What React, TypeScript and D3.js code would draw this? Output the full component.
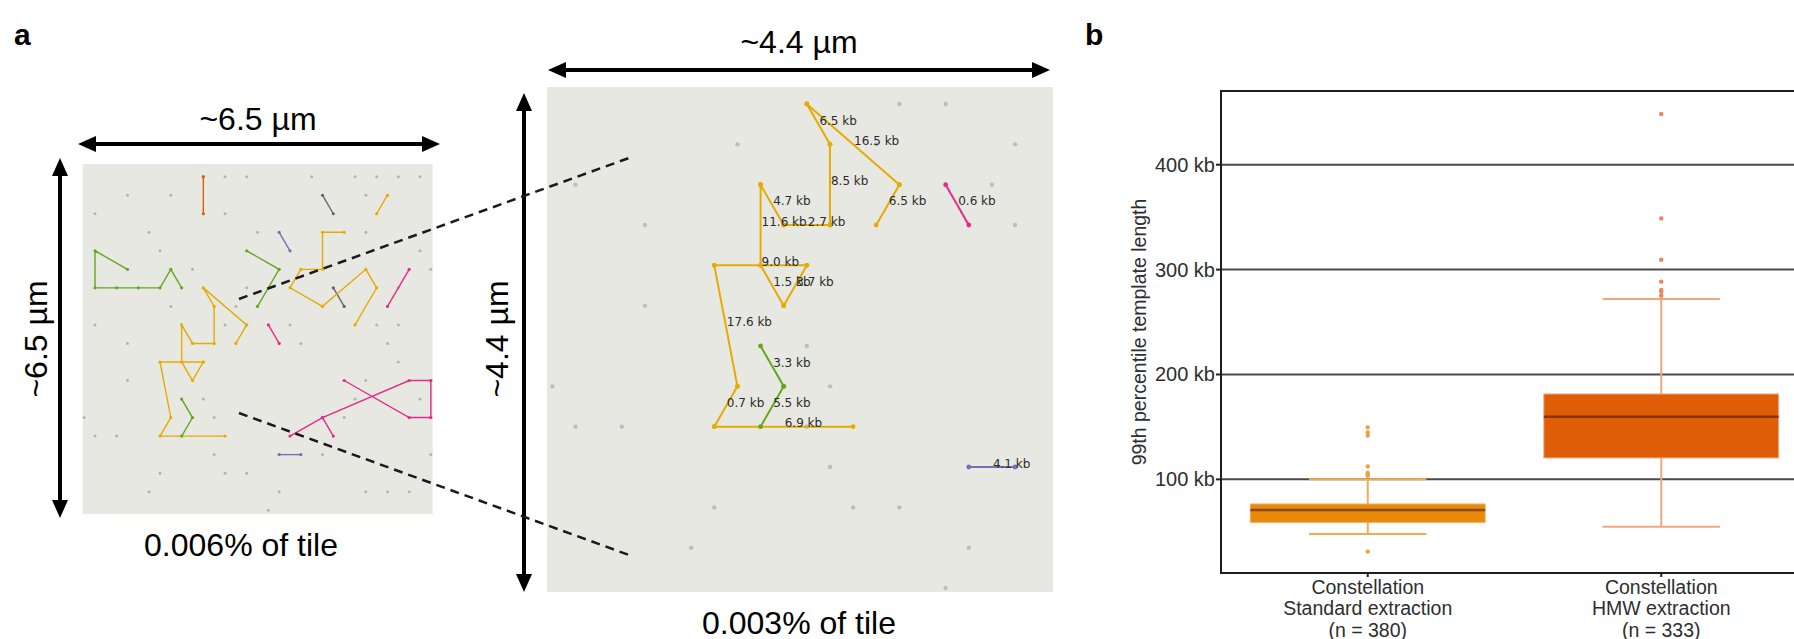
import React from 'react';
import * as d3 from 'd3';

const W = 1794;
const H = 639;

// ---- panel a: positions on the hexagonal spot lattice, as [col, row] ----
// left tile (~6.5 µm)
const leftGrayDots: [number, number][] = [
  [12, 0], [14, 0], [20, 0], [24, 0], [26, 0], [28, 0], [30, 0],
  [3, 1], [7, 1], [25, 1],
  [0, 2], [12, 2],
  [5, 3], [15, 3], [25, 3],
  [6, 4], [30, 4],
  [9, 5], [31, 5],
  [14, 6], [28, 6],
  [7, 7], [13, 7],
  [0, 8], [12, 8], [18, 8], [26, 8], [28, 8],
  [3, 9], [19, 9], [27, 9],
  [28, 10],
  [3, 11], [25, 11],
  [10, 12], [24, 12], [30, 12],
  [-1, 13], [11, 13], [23, 13],
  [0, 14], [2, 14],
  [11, 15], [21, 15], [31, 15],
  [6, 16], [12, 16], [14, 16],
  [5, 17], [17, 17], [25, 17], [27, 17], [29, 17],
  [16, 18],
];

// colour = index into d3.schemeDark2
const leftTracks: { colour: number; pts: [number, number][] }[] = [
  { colour: 1, pts: [[10, 0], [10, 2]] },
  { colour: 7, pts: [[21, 1], [22, 2]] },
  { colour: 7, pts: [[22, 6], [23, 7]] },
  { colour: 5, pts: [[27, 1], [26, 2]] },
  { colour: 5, pts: [[23, 3], [21, 3], [21, 5], [19, 5], [18, 6], [21, 7], [25, 5], [26, 6], [24, 8]] },
  { colour: 5, pts: [[13, 9], [14, 8], [10, 6], [11, 7], [11, 9], [9, 9], [8, 8], [8, 10], [9, 11], [10, 10]] },
  { colour: 5, pts: [[10, 10], [6, 10], [7, 13], [6, 14], [12, 14]] },
  { colour: 2, pts: [[17, 3], [18, 4]] },
  { colour: 2, pts: [[17, 15], [19, 15]] },
  { colour: 4, pts: [[3, 5], [0, 4], [0, 6], [2, 6], [4, 6], [6, 6], [7, 5], [8, 6]] },
  { colour: 4, pts: [[14, 4], [17, 5], [15, 7]] },
  { colour: 4, pts: [[8, 12], [9, 13], [8, 14]] },
  { colour: 3, pts: [[29, 5], [27, 7]] },
  { colour: 3, pts: [[16, 8], [17, 9]] },
  { colour: 3, pts: [[23, 11], [29, 13], [31, 13], [31, 11], [29, 11], [21, 13], [18, 14]] },
  { colour: 3, pts: [[21, 13], [22, 14]] },
];

// right tile (~4.4 µm, zoomed)
const rightGrayDots: [number, number][] = [
  [8, 0], [10, 0], [1, 1], [7, 1], [13, 1], [-6, 2], [12, 2], [-3, 3], [13, 3],
  [-3, 5], [4, 6], [-7, 7], [5, 7], [-6, 8], [-4, 8], [4, 8], [5, 9],
  [0, 10], [6, 10], [8, 10], [-1, 11], [11, 11], [10, 12],
];

const rightSegments: { colour: number; from: [number, number]; to: [number, number]; label: string }[] = [
  { colour: 5, from: [4, 0], to: [5, 1], label: '6.5 kb' },
  { colour: 5, from: [4, 0], to: [8, 2], label: '16.5 kb' },
  { colour: 5, from: [5, 1], to: [5, 3], label: '8.5 kb' },
  { colour: 5, from: [8, 2], to: [7, 3], label: '6.5 kb' },
  { colour: 5, from: [2, 2], to: [3, 3], label: '4.7 kb' },
  { colour: 5, from: [3, 3], to: [5, 3], label: '2.7 kb' },
  { colour: 5, from: [2, 2], to: [2, 4], label: '11.6 kb' },
  { colour: 5, from: [0, 4], to: [4, 4], label: '9.0 kb' },
  { colour: 5, from: [2, 4], to: [3, 5], label: '1.5 kb' },
  { colour: 5, from: [3, 5], to: [4, 4], label: '3.7 kb' },
  { colour: 5, from: [0, 4], to: [1, 7], label: '17.6 kb' },
  { colour: 5, from: [1, 7], to: [0, 8], label: '0.7 kb' },
  { colour: 5, from: [0, 8], to: [6, 8], label: '6.9 kb' },
  { colour: 4, from: [2, 6], to: [3, 7], label: '3.3 kb' },
  { colour: 4, from: [3, 7], to: [2, 8], label: '5.5 kb' },
  { colour: 3, from: [10, 2], to: [11, 3], label: '0.6 kb' },
  { colour: 2, from: [11, 9], to: [13, 9], label: '4.1 kb' },
];

// ---- panel b: 99th percentile template length (kb) ----
const categories = ['standard', 'hmw'];
const categoryLabels = [
  ['Constellation', 'Standard extraction', '(n = 380)'],
  ['Constellation', 'HMW extraction', '(n = 333)'],
];
const boxQ1 = [59.0, 120.4];
const boxMedian = [70.8, 159.8];
const boxQ3 = [76.5, 181.4];
const whiskerLow = [48.0, 54.9];
const whiskerHigh = [100.0, 272.0];
const outliers = [
  [31.1, 103.5, 104.6, 106.1, 112.4, 141.7, 144.8, 149.6],
  [275.1, 278.9, 280.5, 288.5, 309.4, 348.8, 448.3],
];
const yTicks = [100, 200, 300, 400];

const boxFill = ['#e8890c', '#df5d06'];
const medianColour = ['#8a4a02', '#873304'];
const whiskerColour = ['#f2aa55', '#f3a67e'];
const outlierColour = ['#efa043', '#ee8553'];

const sans = '"Liberation Sans", Arial, Helvetica, sans-serif';

function DoubleArrow({ x1, y1, x2, y2 }: { x1: number; y1: number; x2: number; y2: number }) {
  const len = Math.hypot(x2 - x1, y2 - y1);
  const ux = (x2 - x1) / len;
  const uy = (y2 - y1) / len;
  const head = 18;
  const half = 8;
  const tri = (tx: number, ty: number, dx: number, dy: number) => {
    const bx = tx - dx * head;
    const by = ty - dy * head;
    return `${tx},${ty} ${bx - dy * half},${by + dx * half} ${bx + dy * half},${by - dx * half}`;
  };
  return (
    <g fill="#000">
      <line x1={x1 + ux * (head - 2)} y1={y1 + uy * (head - 2)} x2={x2 - ux * (head - 2)} y2={y2 - uy * (head - 2)}
        stroke="#000" strokeWidth={4} />
      <polygon points={tri(x2, y2, ux, uy)} />
      <polygon points={tri(x1, y1, -ux, -uy)} />
    </g>
  );
}

function PanelA() {
  const dark2 = d3.schemeDark2;
  // lattice -> pixel scales for each tile
  const lx = d3.scaleLinear().domain([0, 30]).range([95, 420]);
  const ly = d3.scaleLinear().domain([0, 18]).range([176.7, 510.2]);
  const rx = d3.scaleLinear().domain([0, 12]).range([714.3, 991.9]);
  const ry = d3.scaleLinear().domain([0, 12]).range([104, 588]);
  const leftLine = d3.line<[number, number]>().x(d => lx(d[0])).y(d => ly(d[1]));

  return (
    <g>
      <text x={14} y={45} fontFamily={sans} fontWeight="bold" fontSize={30}>a</text>

      {/* left tile */}
      <text x={258} y={130} textAnchor="middle" fontFamily={sans} fontSize={32}>~6.5 µm</text>
      <DoubleArrow x1={78} y1={144} x2={440} y2={144} />
      <DoubleArrow x1={60} y1={158} x2={60} y2={518} />
      <text transform="translate(47,339) rotate(-90)" textAnchor="middle" fontFamily={sans} fontSize={32}>~6.5 µm</text>
      <rect x={82.7} y={164} width={350} height={350} fill="#e8e8e3" />
      {leftGrayDots.map((d, i) => (
        <circle key={i} cx={lx(d[0])} cy={ly(d[1])} r={1.5} fill="#b3b3b3" />
      ))}
      {leftTracks.map((t, i) => (
        <g key={i}>
          <path d={leftLine(t.pts) ?? ''} fill="none" stroke={dark2[t.colour]} strokeWidth={1.4} />
          {t.pts.map((p, j) => (
            <circle key={j} cx={lx(p[0])} cy={ly(p[1])} r={1.6} fill={dark2[t.colour]} />
          ))}
        </g>
      ))}
      <text x={241} y={556} textAnchor="middle" fontFamily={sans} fontSize={32}>0.006% of tile</text>

      {/* right tile */}
      <text x={799} y={53} textAnchor="middle" fontFamily={sans} fontSize={32}>~4.4 µm</text>
      <DoubleArrow x1={548} y1={70} x2={1050} y2={70} />
      <DoubleArrow x1={524} y1={93} x2={524} y2={592} />
      <text transform="translate(508,339) rotate(-90)" textAnchor="middle" fontFamily={sans} fontSize={32}>~4.4 µm</text>
      <rect x={547} y={87} width={506} height={505} fill="#e8e8e3" />
      {rightGrayDots.map((d, i) => (
        <circle key={i} cx={rx(d[0])} cy={ry(d[1])} r={2.2} fill="#bdbdbd" />
      ))}
      {rightSegments.map((s, i) => (
        <line key={i} x1={rx(s.from[0])} y1={ry(s.from[1])} x2={rx(s.to[0])} y2={ry(s.to[1])}
          stroke={dark2[s.colour]} strokeWidth={2} />
      ))}
      {rightSegments.flatMap((s, i) => [s.from, s.to].map((p, j) => (
        <circle key={`${i}-${j}`} cx={rx(p[0])} cy={ry(p[1])} r={2.4} fill={dark2[s.colour]} />
      )))}
      {rightSegments.map((s, i) => (
        <text key={i} x={(rx(s.from[0]) + rx(s.to[0])) / 2 + 1} y={(ry(s.from[1]) + ry(s.to[1])) / 2 - 3}
          dominantBaseline="middle" fontFamily='"DejaVu Sans", sans-serif' fontSize={12} fill="#2b2b2b">
          {s.label}
        </text>
      ))}
      <text x={799} y={634} textAnchor="middle" fontFamily={sans} fontSize={32}>0.003% of tile</text>

      {/* zoom guides */}
      <line x1={239} y1={299} x2={629} y2={158} stroke="#1a1a1a" strokeWidth={2.5} strokeDasharray="9 6" />
      <line x1={239} y1={413} x2={629} y2={555} stroke="#1a1a1a" strokeWidth={2.5} strokeDasharray="9 6" />
    </g>
  );
}

function PanelB() {
  const left = 1221;
  const right = 1808;
  const top = 91;
  const bottom = 573;
  const y = d3.scaleLinear().domain([10.7, 470.3]).range([bottom, top]);
  const x = d3.scalePoint<string>().domain(categories).range([left, right]).padding(0.5);
  const step = x.step();
  const boxW = step * 0.8;
  const capW = step * 0.4;

  return (
    <g fontFamily={sans}>
      <text x={1085} y={45} fontWeight="bold" fontSize={30}>b</text>

      {yTicks.map(t => (
        <g key={t}>
          <line x1={left} x2={right} y1={y(t)} y2={y(t)} stroke="#4a4a4a" strokeWidth={2} />
          <line x1={left - 5} x2={left} y1={y(t)} y2={y(t)} stroke="#222" strokeWidth={2} />
          <text x={left - 6} y={y(t)} textAnchor="end" dominantBaseline="central" fontSize={20} fill="#2e2e2e">
            {`${t} kb`}
          </text>
        </g>
      ))}

      {categories.map((c, i) => {
        const cx = x(c) ?? 0;
        return (
          <g key={c}>
            <line x1={cx} x2={cx} y1={y(whiskerLow[i])} y2={y(whiskerHigh[i])} stroke={whiskerColour[i]} strokeWidth={2} />
            <line x1={cx - capW / 2} x2={cx + capW / 2} y1={y(whiskerLow[i])} y2={y(whiskerLow[i])} stroke={whiskerColour[i]} strokeWidth={2} />
            <line x1={cx - capW / 2} x2={cx + capW / 2} y1={y(whiskerHigh[i])} y2={y(whiskerHigh[i])} stroke={whiskerColour[i]} strokeWidth={2} />
            <rect x={cx - boxW / 2} y={y(boxQ3[i])} width={boxW} height={y(boxQ1[i]) - y(boxQ3[i])}
              fill={boxFill[i]} stroke={whiskerColour[i]} strokeWidth={1} />
            <line x1={cx - boxW / 2} x2={cx + boxW / 2} y1={y(boxMedian[i])} y2={y(boxMedian[i])} stroke={medianColour[i]} strokeWidth={2.5} />
            {outliers[i].map((v, j) => (
              <circle key={j} cx={cx} cy={y(v)} r={2.2} fill={outlierColour[i]} />
            ))}
            <line x1={cx} x2={cx} y1={bottom} y2={bottom + 4} stroke="#222" strokeWidth={2} />
            {categoryLabels[i].map((s, k) => (
              <text key={k} x={cx} y={593.5 + k * 21.7} textAnchor="middle" fontSize={19.5} fill="#2e2e2e">{s}</text>
            ))}
          </g>
        );
      })}

      <rect x={left} y={top} width={right - left} height={bottom - top} fill="none" stroke="#1e1e1e" strokeWidth={2} />

      <text transform={`translate(1146,${(top + bottom) / 2}) rotate(-90)`} textAnchor="middle" fontSize={19.5} fill="#2e2e2e">
        99th percentile template length
      </text>
    </g>
  );
}

export default function App() {
  return (
    <svg width={W} height={H} style={{ position: 'absolute', left: 0, top: 0, background: '#fff' }}>
      <PanelA />
      <PanelB />
    </svg>
  );
}
